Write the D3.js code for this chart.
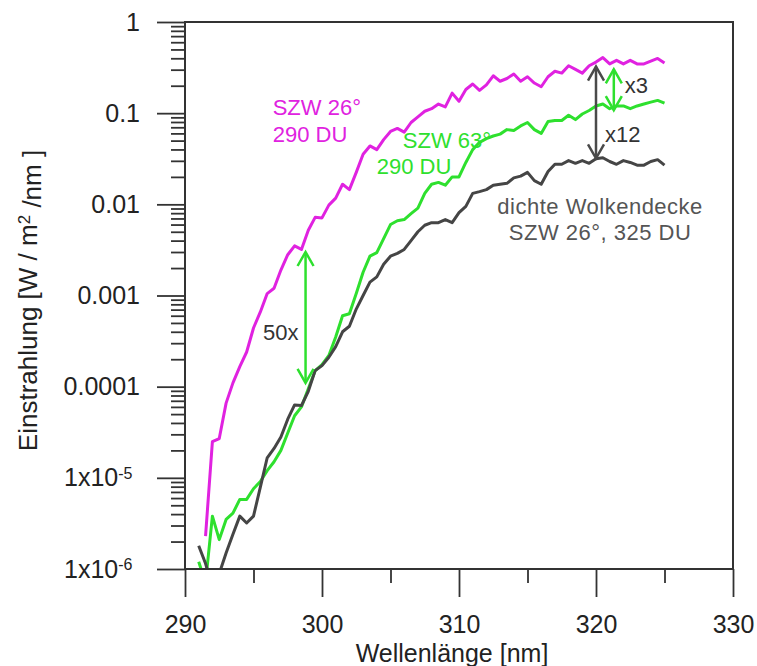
<!DOCTYPE html>
<html lang="de">
<head>
<meta charset="UTF-8">
<title>Einstrahlung</title>
<script src="https://d3js.org/d3.v7.min.js"></script>
<style>
  body { margin: 0; background: #fff; }
  svg text { font-family: "Liberation Sans", Arial, sans-serif; }
</style>
</head>
<body>
<script>
// wavelengths in nm (0.5 nm steps)
const wavelengths = d3.range(291, 325.01, 0.5);

// irradiance W/m2/nm, SZW 26°, 290 DU (magenta)
const szw26 = [null, 2.3e-6, 2.5e-5, 2.7e-5, 6.6e-5, 1.1e-4, 1.66e-4, 2.4e-4, 4.4e-4, 6.6e-4,
  1.05e-3, 1.2e-3, 1.9e-3, 2.8e-3, 3.5e-3, 3.2e-3, 5.2e-3, 7.2e-3, 7.1e-3, 9.8e-3,
  0.0117, 0.0166, 0.0145, 0.0224, 0.0355, 0.0437, 0.0398, 0.0513, 0.063, 0.068,
  0.062, 0.079, 0.091, 0.105, 0.112, 0.126, 0.117, 0.166, 0.135, 0.182,
  0.209, 0.178, 0.204, 0.257, 0.224, 0.240, 0.269, 0.224, 0.251, 0.214,
  0.195, 0.251, 0.288, 0.275, 0.331, 0.302, 0.275, 0.331, 0.363, 0.407,
  0.347, 0.380, 0.347, 0.380, 0.347, 0.347, 0.372, 0.398, 0.355];

// SZW 63°, 290 DU (green)
const szw63 = [1.2e-6, 7.1e-7, 3.8e-6, 2.1e-6, 3.5e-6, 4.1e-6, 5.8e-6, 5.8e-6, 7.6e-6, 9.1e-6,
  1.2e-5, 1.5e-5, 2.0e-5, 3.1e-5, 4.8e-5, 6.0e-5, 9.5e-5, 1.5e-4, 1.74e-4, 2.2e-4,
  3.5e-4, 6.0e-4, 6.3e-4, 1.05e-3, 1.8e-3, 2.7e-3, 2.95e-3, 4.2e-3, 6.0e-3, 6.6e-3,
  6.8e-3, 7.9e-3, 9.1e-3, 0.0132, 0.0166, 0.0174, 0.0162, 0.020, 0.020, 0.0288,
  0.0398, 0.0479, 0.0525, 0.0562, 0.0589, 0.066, 0.0646, 0.0724, 0.079, 0.066,
  0.060, 0.081, 0.083, 0.083, 0.095, 0.085, 0.098, 0.107, 0.120, 0.126,
  0.112, 0.120, 0.120, 0.112, 0.120, 0.126, 0.132, 0.138, 0.129];

// dichte Wolkendecke, SZW 26°, 325 DU (dark grey)
const cloudy = [1.8e-6, 1.15e-6, 6.3e-7, 8.9e-7, 1.5e-6, 2.4e-6, 3.8e-6, 3.2e-6, 3.8e-6, 7.9e-6,
  1.66e-5, 2.1e-5, 2.8e-5, 4.4e-5, 6.3e-5, 6.2e-5, 8.9e-5, 1.5e-4, 1.7e-4, 2.1e-4,
  2.75e-4, 4.0e-4, 4.6e-4, 7.1e-4, 1.0e-3, 1.4e-3, 1.6e-3, 2.2e-3, 2.7e-3, 2.9e-3,
  3.2e-3, 4.0e-3, 5.0e-3, 5.9e-3, 6.3e-3, 6.3e-3, 6.8e-3, 6.3e-3, 8.1e-3, 9.5e-3,
  0.0132, 0.0138, 0.0145, 0.0162, 0.0166, 0.0170, 0.0195, 0.0204, 0.0224, 0.0182,
  0.0166, 0.0229, 0.0275, 0.0275, 0.0302, 0.0282, 0.0302, 0.0282, 0.0316, 0.0324,
  0.0295, 0.0275, 0.0302, 0.0288, 0.0269, 0.0269, 0.0295, 0.0309, 0.0269];

const xMajor = [290, 300, 310, 320, 330];
const xMinor = [295, 305, 315, 325];
const yMajor = [1, 0.1, 0.01, 0.001, 0.0001, 1e-5, 1e-6];
const yLabels = ["1", "0.1", "0.01", "0.001", "0.0001", "1x10|-5", "1x10|-6"];

// double arrows: wavelength, upper and lower value
const arrows = [
  { wl: 298.8, top: 3.0e-3, bottom: 1.1e-4, color: "#2ee02e" },
  { wl: 320.0, top: 0.324, bottom: 0.032, color: "#4a4a4a" },
  { wl: 321.3, top: 0.303, bottom: 0.108, color: "#2ee02e" }
];

// annotation texts at (wavelength, value)
const notes = [
  { t: "SZW 26°", wl: 296.4, v: 0.095, color: "#e022e0", anchor: "start" },
  { t: "290 DU", wl: 296.4, v: 0.0487, color: "#e022e0", anchor: "start" },
  { t: "SZW 63°", wl: 305.9, v: 0.042, color: "#2ee02e", anchor: "start" },
  { t: "290 DU", wl: 304.0, v: 0.0213, color: "#2ee02e", anchor: "start" },
  { t: "dichte Wolkendecke", wl: 320.3, v: 0.00785, color: "#555", anchor: "middle" },
  { t: "SZW 26°, 325 DU", wl: 320.3, v: 0.00407, color: "#555", anchor: "middle" },
  { t: "50x", wl: 295.7, v: 3.26e-4, color: "#333", anchor: "start" },
  { t: "x3", wl: 322.1, v: 0.167, color: "#333", anchor: "start" },
  { t: "x12", wl: 320.66, v: 0.0487, color: "#333", anchor: "start" }
];

const width = 757, height = 666;
const m = { left: 185, right: 733, top: 22, bottom: 569 };

const svg = d3.select("body").append("svg")
  .attr("width", width)
  .attr("height", height);

const x = d3.scaleLinear().domain([290, 330]).range([m.left, m.right]);
const y = d3.scaleLog().domain([1e-6, 1]).range([m.bottom, m.top]);

svg.append("clipPath").attr("id", "plot")
  .append("rect")
  .attr("x", m.left).attr("y", m.top)
  .attr("width", m.right - m.left).attr("height", m.bottom - m.top);

// curves
const line = d3.line()
  .defined(d => d[1] != null)
  .x(d => x(d[0]))
  .y(d => y(d[1]));

const series = [
  { values: szw63, color: "#2ee02e" },
  { values: cloudy, color: "#454545" },
  { values: szw26, color: "#e022e0" }
];

svg.append("g").attr("clip-path", "url(#plot)")
  .selectAll("path")
  .data(series)
  .enter().append("path")
  .attr("fill", "none")
  .attr("stroke", d => d.color)
  .attr("stroke-width", 3)
  .attr("stroke-linejoin", "round")
  .attr("d", d => line(wavelengths.map((w, i) => [w, d.values[i]])));

// axes
const axisColor = "#333";

const yMinor = y.ticks().filter(v => !yMajor.some(t => Math.abs(t - v) / t < 1e-6));

svg.append("g")
  .attr("transform", `translate(${m.left},0)`)
  .call(d3.axisLeft(y).tickValues(yMinor).tickSize(14).tickFormat(""))
  .call(g => g.select(".domain").remove());

const yAxis = svg.append("g")
  .attr("transform", `translate(${m.left},0)`)
  .call(d3.axisLeft(y).tickValues(yMajor).tickSize(28).tickPadding(17).tickFormat(""))
  .call(g => g.select(".domain").remove());

yAxis.selectAll(".tick text").each(function(d, i) {
  const parts = yLabels[i].split("|");
  const t = d3.select(this).attr("font-size", 25).attr("fill", "#222");
  if (parts.length > 1) {
    t.attr("dx", "-0.3em");
    t.append("tspan").text(parts[0]);
    t.append("tspan").attr("dy", "-0.45em").attr("font-size", 16).text(parts[1]);
  } else {
    t.text(parts[0]);
  }
});

svg.append("g")
  .attr("transform", `translate(0,${m.bottom})`)
  .call(d3.axisBottom(x).tickValues(xMinor).tickSize(14).tickFormat(""))
  .call(g => g.select(".domain").remove());

svg.append("g")
  .attr("transform", `translate(0,${m.bottom})`)
  .call(d3.axisBottom(x).tickValues(xMajor).tickSize(28).tickPadding(18).tickFormat(d3.format("d")))
  .call(g => g.select(".domain").remove())
  .call(g => g.selectAll(".tick text").attr("font-size", 25).attr("fill", "#222"));

svg.selectAll(".tick line").attr("stroke", axisColor).attr("stroke-width", 1.8);

svg.append("rect")
  .attr("x", m.left).attr("y", m.top)
  .attr("width", m.right - m.left).attr("height", m.bottom - m.top)
  .attr("fill", "none")
  .attr("stroke", axisColor)
  .attr("stroke-width", 2);

// axis titles
svg.append("text")
  .attr("x", (m.left + m.right) / 2 - 7)
  .attr("y", 662)
  .attr("text-anchor", "middle")
  .attr("font-size", 25)
  .attr("fill", "#222")
  .text("Wellenlänge [nm]");

const yTitle = svg.append("text")
  .attr("transform", `translate(37,${(m.top + m.bottom) / 2 + 5}) rotate(-90)`)
  .attr("text-anchor", "middle")
  .attr("font-size", 26)
  .attr("fill", "#222");
yTitle.append("tspan").text("Einstrahlung [W / m");
yTitle.append("tspan").attr("dy", "-0.4em").attr("font-size", 17).text("2");
yTitle.append("tspan").attr("dy", "0.4em").text(" /nm ]");

// double arrows
const head = 8, headLen = 14;
const ag = svg.append("g").selectAll("g").data(arrows).enter().append("g")
  .attr("stroke", d => d.color)
  .attr("stroke-width", 2.5)
  .attr("fill", "none");

ag.append("line")
  .attr("x1", d => x(d.wl)).attr("x2", d => x(d.wl))
  .attr("y1", d => y(d.top)).attr("y2", d => y(d.bottom));

ag.append("path")
  .attr("d", d => {
    const cx = x(d.wl), y1 = y(d.top), y2 = y(d.bottom);
    return `M${cx - head},${y1 + headLen}L${cx},${y1}L${cx + head},${y1 + headLen}` +
           `M${cx - head},${y2 - headLen}L${cx},${y2}L${cx + head},${y2 - headLen}`;
  });

// annotation texts
svg.append("g").selectAll("text").data(notes).enter().append("text")
  .attr("x", d => x(d.wl))
  .attr("y", d => y(d.v))
  .attr("text-anchor", d => d.anchor)
  .attr("font-size", 22)
  .attr("letter-spacing", d => d.anchor === "middle" ? 0.5 : 0)
  .attr("fill", d => d.color)
  .text(d => d.t);
</script>
</body>
</html>
